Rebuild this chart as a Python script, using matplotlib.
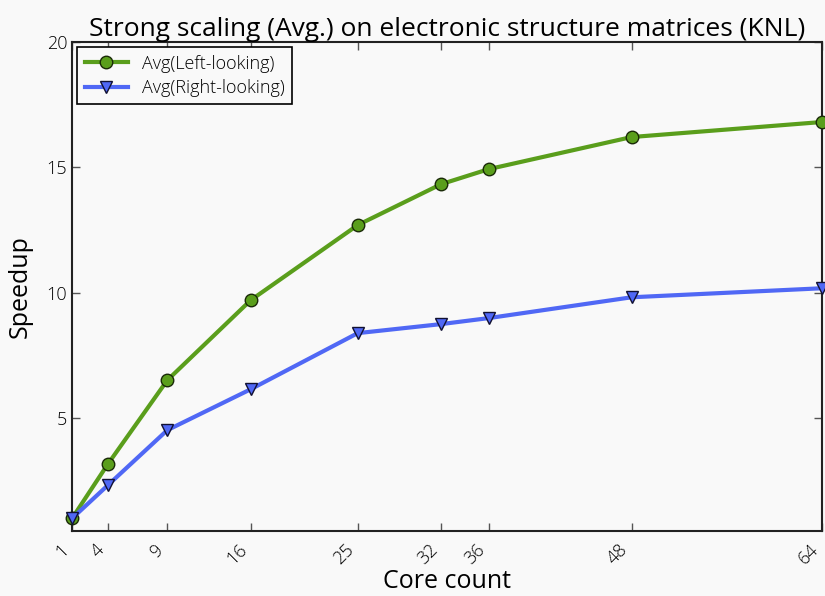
import matplotlib.pyplot as plt
import matplotlib.transforms as mtransforms

cores = [1, 4, 9, 16, 25, 32, 36, 48, 64]
left_looking = [1.0, 3.16, 6.51, 9.7, 12.7, 14.33, 14.93, 16.21, 16.81]
right_looking = [1.0, 2.32, 4.52, 6.15, 8.39, 8.75, 8.99, 9.82, 10.18]

plt.rcParams['font.family'] = ['Open Sans', 'DejaVu Sans']
plt.rcParams['font.weight'] = 'light'

fig = plt.figure(figsize=(8.25, 5.96), dpi=100, facecolor='#f9f9f9')
ax = fig.add_axes([0.0873, 0.1091, 0.9091, 0.8204], facecolor='#f9f9f9')

ax.plot(cores, left_looking, color='#5a9e1c', linewidth=3, marker='o',
        markersize=9, markerfacecolor='#5a9e1c', markeredgecolor='#1a2a08',
        markeredgewidth=1, label='Avg(Left-looking)', clip_on=False, zorder=3)
ax.plot(cores, right_looking, color='#5068f5', linewidth=3, marker='v',
        markersize=9, markerfacecolor='#5068f5', markeredgecolor='#111133',
        markeredgewidth=1, label='Avg(Right-looking)', clip_on=False, zorder=3)

ax.set_xlim(1, 64)
ax.set_ylim(0.5, 20)
ax.set_xticks(cores)
ax.set_xticklabels([str(c) for c in cores], rotation=45, ha='right', fontsize=13)
shift = mtransforms.ScaledTranslation(-6 / 100, 0, fig.dpi_scale_trans)
for lab in ax.get_xticklabels():
    lab.set_transform(lab.get_transform() + shift)
ax.set_yticks([5, 10, 15, 20])
ax.tick_params(axis='y', labelsize=13)
ax.tick_params(direction='in', top=True, right=True, length=6, width=1, color='#555555')
ax.tick_params(axis='x', pad=7)
for s in ax.spines.values():
    s.set_linewidth(1.5)
    s.set_color('#222222')

ax.set_title('Strong scaling (Avg.) on electronic structure matrices (KNL)', fontsize=19, pad=4)
ax.set_xlabel('Core count', fontsize=18, labelpad=1)
ax.set_ylabel('Speedup', fontsize=18, labelpad=10)

leg = ax.legend(loc='upper left', fontsize=13, fancybox=False, framealpha=1,
                edgecolor='black', facecolor='#f9f9f9', borderaxespad=0.3,
                handlelength=2.4, labelspacing=0.35)
leg.get_frame().set_linewidth(1.2)

fig.savefig('out.png', dpi=100, facecolor=fig.get_facecolor())
